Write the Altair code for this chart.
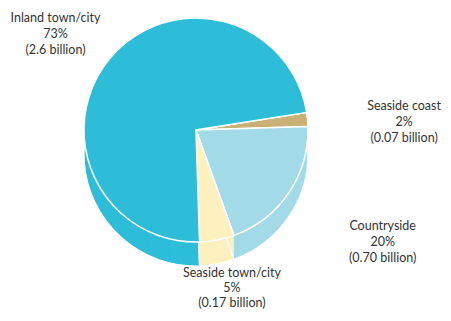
import math
import altair as alt
import pandas as pd

# ---- data ----
categories = ["Seaside coast", "Countryside", "Seaside town/city", "Inland town/city"]
shares = [2, 20, 5, 73]                       # percent
billions = ["0.07", "0.70", "0.17", "2.6"]    # billions
colors = ["#C9B175", "#A2DAE8", "#FFF0C0", "#2DBDD9"]

df = pd.DataFrame({
    "category": categories,
    "share": shares,
    "billion": billions,
    "order": list(range(len(categories))),
})
df["label"] = df["category"] + "\n" + df["share"].astype(str) + "%\n(" + df["billion"] + " billion)"

R = 112
DEPTH = 24
START = math.radians(81)
theta_scale = alt.Scale(domain=[0, 100], range=[START, START + 2 * math.pi])
color_scale = alt.Scale(domain=categories, range=colors)

base = alt.Chart(df).encode(
    theta=alt.Theta("share:Q", stack=True, scale=theta_scale),
    order=alt.Order("order:Q"),
    color=alt.Color("category:N", scale=color_scale, legend=None),
)

# side of the "3D" pie: stacked copies pushed down
side = [base.mark_arc(radius=R, yOffset=k) for k in range(DEPTH, 0, -1)]

edges = alt.Chart(df).mark_arc(
    radius=R, yOffset=DEPTH, fillOpacity=0, stroke="white", strokeWidth=1.2
).encode(
    theta=alt.Theta("share:Q", stack=True, scale=theta_scale),
    order=alt.Order("order:Q"),
)

top = base.mark_arc(radius=R, stroke="white", strokeWidth=1.5)

# label placement: (radius, dx, dy, line height)
label_pos = {
    "Inland town/city": (172, -8, -2, 16),
    "Seaside coast": (212, -3, -4, 16),
    "Countryside": (216, 8, -25, 16),
    "Seaside town/city": (165, 5, -19, 15),
}

labels = []
for cat, (rr, dx, dy, lh) in label_pos.items():
    labels.append(
        alt.Chart(df)
        .transform_stack(stack="share", groupby=[], as_=["s0", "s1"],
                         sort=[alt.SortField("order", order="ascending")])
        .transform_calculate(mid="(datum.s0 + datum.s1) / 2")
        .transform_filter(alt.datum.category == cat)
        .mark_text(radius=rr, dx=dx, dy=dy, lineBreak="\n", font="Lato", fontSize=12.5,
                   lineHeight=lh, color="#333333", align="center", baseline="middle")
        .encode(
            theta=alt.Theta("mid:Q", stack=False, scale=theta_scale),
            text="label:N",
        )
    )

chart = alt.layer(*side, edges, top, *labels).properties(
    width=376,
    height=244,
    padding={"left": 0, "top": 0, "right": 59, "bottom": 61},
    autosize=alt.AutoSizeParams(type="none"),
).configure_view(stroke=None)

chart.save("out.html", embed_options={"renderer": "svg", "actions": False})
